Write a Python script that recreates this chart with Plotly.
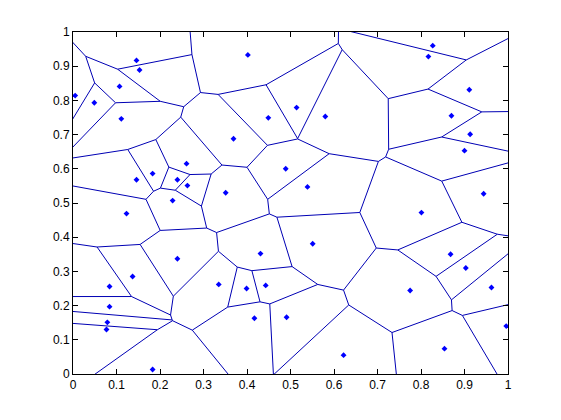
import numpy as np
import plotly.graph_objects as go

# Generator points of the Voronoi diagram
px = [0.146, 0.153, 0.107, 0.005, 0.049, 0.111, 0.402, 0.514, 0.449, 0.580,
      0.369, 0.827, 0.817, 0.911, 0.870, 0.913, 0.900, 0.261, 0.183, 0.146,
      0.240, 0.263, 0.229, 0.123, 0.240, 0.489, 0.539, 0.351, 0.551, 0.431,
      0.944, 0.801, 0.868, 0.137, 0.084, 0.084, 0.079, 0.077, 0.183, 0.335,
      0.399, 0.443, 0.417, 0.491, 0.622, 0.903, 0.775, 0.962, 0.996, 0.854]
py = [0.917, 0.889, 0.841, 0.814, 0.793, 0.746, 0.933, 0.779, 0.749, 0.753,
      0.688, 0.960, 0.928, 0.831, 0.755, 0.701, 0.653, 0.615, 0.586, 0.568,
      0.568, 0.551, 0.507, 0.469, 0.337, 0.600, 0.547, 0.530, 0.381, 0.352,
      0.527, 0.472, 0.350, 0.285, 0.256, 0.197, 0.151, 0.130, 0.013, 0.262,
      0.250, 0.259, 0.163, 0.166, 0.055, 0.310, 0.244, 0.253, 0.140, 0.074]

tick_vals = [0, 0.1, 0.2, 0.3, 0.4, 0.5, 0.6, 0.7, 0.8, 0.9, 1]
tick_text = ["0", "0.1", "0.2", "0.3", "0.4", "0.5", "0.6", "0.7", "0.8", "0.9", "1"]

# Compute Voronoi edges (bisector segments clipped by all half-planes)
P = np.column_stack([px, py])
n = len(P)
sq = (P ** 2).sum(axis=1)
ex, ey = [], []
T = 20.0
for i in range(n):
    for j in range(i + 1, n):
        m = (P[i] + P[j]) / 2
        v = P[j] - P[i]
        d = np.array([-v[1], v[0]])
        d = d / np.linalg.norm(d)
        lo, hi = -T, T
        ok = True
        for k in range(n):
            if k == i or k == j:
                continue
            w = P[k] - P[i]
            a = 2 * d.dot(w)
            b = sq[k] - sq[i] - 2 * m.dot(w)
            if abs(a) < 1e-12:
                if b < 0:
                    ok = False
                    break
                continue
            t = b / a
            if a > 0:
                hi = min(hi, t)
            else:
                lo = max(lo, t)
            if lo >= hi - 1e-12:
                ok = False
                break
        if ok and hi - lo > 1e-9:
            p1 = m + lo * d
            p2 = m + hi * d
            ex += [p1[0], p2[0], None]
            ey += [p1[1], p2[1], None]

fig = go.Figure()
fig.add_trace(go.Scatter(x=ex, y=ey, mode="lines",
                         line=dict(color="#0000B4", width=1),
                         hoverinfo="skip", showlegend=False))
fig.add_trace(go.Scatter(x=px, y=py, mode="markers",
                         marker=dict(color="#0000FF", size=4.5, symbol="diamond"),
                         showlegend=False))

axis_common = dict(
    range=[0, 1], tickvals=tick_vals, ticktext=tick_text,
    ticks="inside", ticklen=5, tickcolor="black", tickwidth=1,
    showline=True, linecolor="black", linewidth=1, mirror="ticks",
    showgrid=False, zeroline=False,
    tickfont=dict(family="Liberation Sans, Arial, sans-serif", size=12, color="black"),
)
fig.update_xaxes(**axis_common)
fig.update_yaxes(**axis_common)
fig.update_layout(
    width=561, height=420,
    margin=dict(l=65, r=61, t=24, b=54),
    paper_bgcolor="white", plot_bgcolor="white",
    showlegend=False,
)
fig.write_html("out.html")
